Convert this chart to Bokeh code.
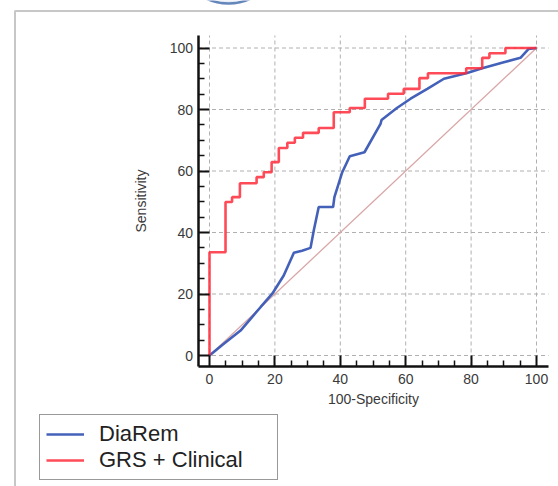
from bokeh.plotting import figure
from bokeh.models import (Range1d, LinearAxis, FixedTicker, Legend, LegendItem,
                          BoxAnnotation)
from bokeh.embed import file_html
from bokeh.resources import INLINE

# ---------------- data ----------------
series_names = ["DiaRem", "GRS + Clinical"]
x_title = "100-Specificity"
y_title = "Sensitivity"

diarem_fpr = [0, 4.0, 9.5, 15.6, 19.2, 22.7, 25.8, 28.3, 30.9, 31.9, 33.4, 37.8, 38.2,
              40.6, 42.9, 47.4, 52.3, 52.6, 57.3, 61.5, 66.6, 71.7, 78.8, 83.4, 90.0,
              95.1, 97.6, 100]
diarem_tpr = [0, 3.5, 8.1, 15.7, 20.1, 26.0, 33.4, 34.1, 35.0, 40.7, 48.3, 48.3, 51.5,
              59.6, 64.8, 66.1, 75.3, 76.6, 80.5, 83.5, 86.7, 90.0, 91.9, 93.4, 95.4,
              96.8, 99.7, 100]

grs_fpr = [0, 0, 4.9, 6.9, 9.3, 14.4, 16.6, 19.0, 21.2, 23.8, 26.1, 28.6, 33.4, 38.0,
           42.9, 47.5, 54.6, 59.4, 64.2, 66.8, 78.5, 83.4, 85.6, 90.5, 100]
grs_tpr = [0, 33.6, 49.9, 51.5, 56.0, 58.0, 59.6, 62.9, 67.5, 69.2, 70.8, 72.4, 74.0,
           79.1, 80.5, 83.5, 85.1, 86.7, 90.2, 91.8, 93.4, 96.8, 98.3, 100, 100]

ref_fpr = [0, 100]
ref_tpr = [0, 100]

major_ticks = [0, 20, 40, 60, 80, 100]
minor_ticks = [5, 10, 15, 25, 30, 35, 45, 50, 55, 65, 70, 75, 85, 90, 95]

# ---------------- layout geometry (pixels) ----------------
W, H = 558, 486
X_PX0, X_PX100 = 209.0, 536.0      # pixel of x=0 and x=100
Y_PX0, Y_PX100 = 355.0, 47.5       # pixel of y=0 and y=100
SX = (X_PX100 - X_PX0) / 100.0
SY = (Y_PX0 - Y_PX100) / 100.0


def px2x(px):
    return (px - X_PX0) / SX


def px2y(py):
    return (Y_PX0 - py) / SY


x_lo, x_hi = px2x(197.5), px2x(548)
y_lo, y_hi = px2y(366), px2y(35)

p = figure(width=W, height=H, output_backend="svg", toolbar_location=None,
           x_range=Range1d(px2x(0), px2x(W)), y_range=Range1d(px2y(H), px2y(0)),
           x_axis_location=None, y_axis_location=None, min_border=0,
           min_border_left=0, min_border_right=0, min_border_top=0, min_border_bottom=0)
p.outline_line_color = None
p.background_fill_color = "white"
p.border_fill_color = "white"
p.xgrid.visible = False
p.ygrid.visible = False

# outer frame box and top artifact
p.add_layout(BoxAnnotation(left=px2x(14.5), top=px2y(10.5), right=px2x(W + 40),
                           bottom=px2y(H + 40), fill_color=None,
                           line_color="#444444", line_width=2))
p.scatter(x=[px2x(228)], y=[px2y(-48)], size=102, marker="circle",
          fill_color="#e6edf6", line_color="#6486bb", line_width=2.5)

# grid lines (dashed)
n = len(major_ticks)
p.segment(x0=major_ticks, x1=major_ticks, y0=[y_lo] * n, y1=[y_hi] * n,
          line_color="#b0b0b0", line_width=1, line_dash="4 3")
p.segment(x0=[x_lo] * n, x1=[x_hi] * n, y0=major_ticks, y1=major_ticks,
          line_color="#b0b0b0", line_width=1, line_dash="4 3")

# curves
p.line(ref_fpr, ref_tpr, line_color="#d9a6a6", line_width=1.3)
r_blue = p.line(diarem_fpr, diarem_tpr, line_color="#3a58b6", line_width=2.6,
                line_alpha=0.95)
r_red = p.step(grs_fpr, grs_tpr, mode="after", line_color="#ff2a3a", line_width=2.6,
               line_alpha=0.85)

# axes
ticker_x = FixedTicker(ticks=major_ticks, minor_ticks=minor_ticks)
ticker_y = FixedTicker(ticks=major_ticks, minor_ticks=minor_ticks)


def style_axis(ax, standoff, label_standoff):
    ax.axis_line_color = "#111111"
    ax.axis_line_width = 2.5
    ax.major_tick_line_color = "#111111"
    ax.minor_tick_line_color = "#111111"
    ax.major_tick_line_width = 2
    ax.minor_tick_line_width = 1.5
    ax.major_tick_in = 11
    ax.major_tick_out = 0
    ax.minor_tick_in = 6
    ax.minor_tick_out = 0
    ax.major_label_text_font = "Liberation Sans"
    ax.major_label_text_font_size = "14px"
    ax.major_label_text_color = "#3a3a3a"
    ax.major_label_standoff = standoff
    ax.axis_label_text_font = "Liberation Sans"
    ax.axis_label_text_font_size = "14px"
    ax.axis_label_text_font_style = "normal"
    ax.axis_label_text_color = "#3a3a3a"
    ax.axis_label_standoff = label_standoff


yaxis = LinearAxis(fixed_location=x_lo, bounds=(y_lo, y_hi), ticker=ticker_y,
                   axis_label=y_title)
style_axis(yaxis, 5, 18)
p.add_layout(yaxis, "left")

xaxis = LinearAxis(fixed_location=y_lo, bounds=(x_lo, x_hi), ticker=ticker_x,
                   axis_label=x_title)
style_axis(xaxis, 7, 4)
p.add_layout(xaxis, "below")

# legend
legend = Legend(items=[LegendItem(label=series_names[0], renderers=[r_blue]),
                       LegendItem(label=series_names[1], renderers=[r_red])],
                location=(39, 6), margin=0, padding=6, spacing=0,
                glyph_width=38, glyph_height=24, label_height=24, label_width=172,
                label_standoff=15,
                label_text_font="Liberation Sans", label_text_font_size="22px",
                label_text_color="#222222",
                border_line_color="#333333", border_line_width=1.5,
                background_fill_color="white", background_fill_alpha=1)
p.add_layout(legend, "center")

open("out.html", "w").write(file_html(p, INLINE))
